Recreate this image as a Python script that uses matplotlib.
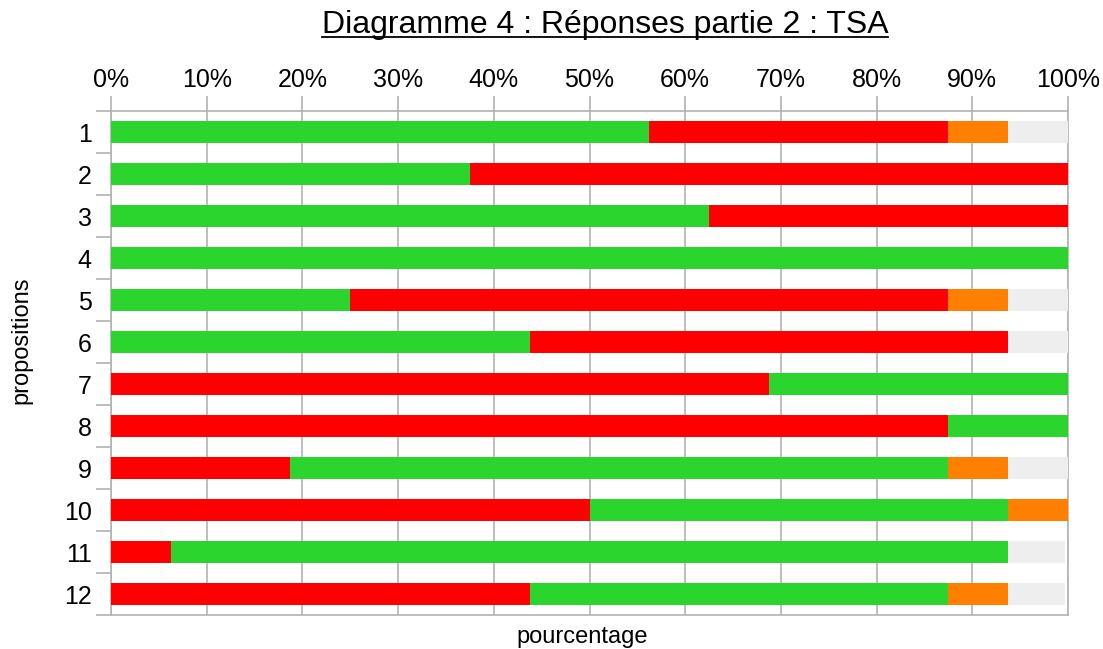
import matplotlib

matplotlib.use('Agg')
import matplotlib.pyplot as plt
from matplotlib.lines import Line2D
import numpy as np

plt.rcParams['font.family'] = ['Liberation Sans', 'DejaVu Sans']

# données (en %), 16 réponses par proposition
categories = ['1', '2', '3', '4', '5', '6', '7', '8', '9', '10', '11', '12']
green = [56.25, 37.5, 62.5, 100, 25, 43.75, 31.25, 12.5, 68.75, 43.75, 87.5, 43.75]
red = [31.25, 62.5, 37.5, 0, 62.5, 50, 68.75, 87.5, 18.75, 50, 6.25, 43.75]
orange = [6.25, 0, 0, 0, 6.25, 0, 0, 0, 6.25, 6.25, 0, 6.25]
grey = [6.25, 0, 0, 0, 6.25, 6.25, 0, 0, 6.25, 0, 5.95, 5.95]
red_first = [False] * 6 + [True] * 6

c_green = '#2cd42e'
c_red = '#ff0000'
c_orange = '#ff8000'
c_grey = '#eeeeee'
c_axis = '#b3b3b3'

g = np.array(green)
r = np.array(red)
rf = np.array(red_first)
first = np.where(rf, r, g)
second = np.where(rf, g, r)
first_col = [c_red if f else c_green for f in red_first]
second_col = [c_green if f else c_red for f in red_first]

fig = plt.figure(figsize=(11.03, 6.49), dpi=100)
ax = fig.add_axes([111 / 1103, 1 - 615 / 649, 957 / 1103, 504 / 649])

y = np.arange(len(categories))
h = 0.52
left = np.zeros(len(categories))
for vals, cols in [(first, first_col), (second, second_col),
                   (np.array(orange), c_orange), (np.array(grey), c_grey)]:
    ax.barh(y, vals, left=left, height=h, color=cols, zorder=3)
    left = left + vals

ax.set_xlim(0, 100)
ax.set_ylim(len(categories) - 0.5, -0.5)

ax.xaxis.tick_top()
ax.set_xticks(np.arange(0, 101, 10))
ax.set_xticklabels([f'{v}%' for v in range(0, 101, 10)], fontsize=18)
ax.tick_params(axis='x', length=11, color=c_axis, width=1.2, pad=3)
ax.grid(axis='x', color=c_axis, linewidth=1.2, zorder=0)

ax.set_yticks(y)
ax.set_yticklabels(categories, fontsize=18)
ax.tick_params(axis='y', which='major', length=0, pad=14)
ax.set_yticks(np.arange(-0.5, len(categories), 1), minor=True)
ax.tick_params(axis='y', which='minor', length=11, color=c_axis, width=1.2)

for s in ['top', 'bottom', 'left', 'right']:
    ax.spines[s].set_color(c_axis)
    ax.spines[s].set_linewidth(1.2)

ax.set_xlabel('pourcentage', fontsize=17)
ax.xaxis.set_label_position('bottom')
ax.xaxis.set_label_coords(0.492, -0.022)
ax.set_ylabel('propositions', fontsize=17)
ax.yaxis.set_label_coords(-0.0825, 0.546)

title = fig.text(605 / 1103, 1 - 25 / 649, 'Diagramme 4 : Réponses partie 2 : TSA',
                 fontsize=23, ha='center', va='center')

# soulignement du titre
fig.canvas.draw()
bb = title.get_window_extent().transformed(fig.transFigure.inverted())
yl = bb.y0 + 0.004
fig.add_artist(Line2D([bb.x0, bb.x1], [yl, yl], color='black', linewidth=1.3,
                      transform=fig.transFigure))

fig.savefig('out.png', dpi=100)
